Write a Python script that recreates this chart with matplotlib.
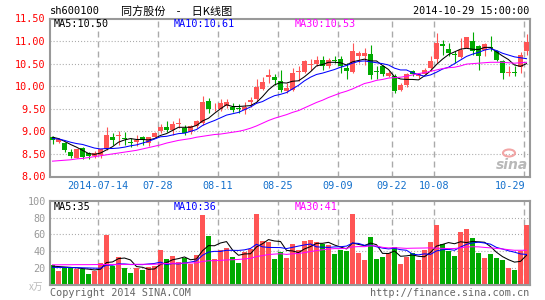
import matplotlib
matplotlib.use("Agg")
import matplotlib.pyplot as plt
import numpy as np
from matplotlib.transforms import blended_transform_factory
from matplotlib.patches import Ellipse

plt.rcParams['lines.scale_dashes'] = False

# ---------------- data ----------------
date_idx = [8, 18, 28, 38, 48, 57, 64, 79]
date_labels = ['2014-07-14', '07-28', '08-11', '08-25', '09-09', '09-22', '10-08', '10-29']

open_ = [8.87, 8.76, 8.75, 8.55, 8.42, 8.64, 8.51, 8.45, 8.48, 8.60,
         8.88, 8.90, 8.86, 8.77, 8.77, 8.87, 8.74, 8.88, 9.01, 9.09,
         9.03, 9.17, 9.08, 8.99, 9.11, 9.18, 9.68, 9.51, 9.49, 9.56,
         9.55, 9.51, 9.47, 9.66, 9.71, 9.94, 10.21, 10.21, 10.12, 9.90,
         9.92, 10.32, 10.32, 10.47, 10.50, 10.57, 10.44, 10.57, 10.61, 10.41,
         10.32, 10.68, 10.68, 10.72, 10.33, 10.44, 10.23, 10.22, 9.92, 10.03,
         10.33, 10.22, 10.27, 10.40, 10.61, 10.93, 10.83, 10.72, 10.64, 10.85,
         11.00, 10.90, 10.80, 10.86, 10.77, 10.55, 10.29, 10.32, 10.42, 10.77]
high = [8.90, 8.86, 8.77, 8.60, 8.62, 8.66, 8.55, 8.56, 8.62, 9.10,
        8.96, 9.01, 8.99, 8.85, 8.93, 8.90, 8.88, 8.99, 9.16, 9.22,
        9.22, 9.29, 9.14, 9.14, 9.25, 9.79, 9.74, 9.62, 9.71, 9.71,
        9.62, 9.60, 9.66, 9.77, 10.17, 10.21, 10.38, 10.27, 10.36, 10.08,
        10.40, 10.44, 10.59, 10.60, 10.66, 10.66, 10.62, 10.66, 10.66, 10.51,
        10.96, 10.77, 10.85, 10.92, 10.44, 10.48, 10.33, 10.26, 10.07, 10.29,
        10.37, 10.30, 10.40, 10.66, 11.18, 11.03, 10.95, 10.77, 11.07, 11.10,
        11.20, 10.92, 10.96, 11.12, 10.80, 10.59, 10.44, 10.44, 10.76, 11.16]
low = [8.73, 8.74, 8.55, 8.40, 8.40, 8.38, 8.38, 8.42, 8.42, 8.59,
       8.70, 8.70, 8.70, 8.66, 8.68, 8.70, 8.68, 8.87, 8.97, 8.99,
       8.92, 9.07, 8.92, 8.94, 9.08, 9.14, 9.40, 9.44, 9.44, 9.51,
       9.42, 9.40, 9.39, 9.55, 9.66, 9.92, 10.08, 10.03, 9.88, 9.84,
       9.89, 10.11, 10.29, 10.37, 10.44, 10.37, 10.40, 10.51, 10.30, 10.15,
       10.29, 10.51, 10.48, 10.15, 10.15, 10.22, 10.20, 9.85, 9.89, 9.98,
       10.22, 10.18, 10.26, 10.33, 10.51, 10.70, 10.66, 10.51, 10.62, 10.84,
       10.70, 10.37, 10.68, 10.77, 10.55, 10.17, 10.22, 10.22, 10.29, 10.70]
close = [8.80, 8.82, 8.59, 8.45, 8.60, 8.44, 8.45, 8.53, 8.60, 8.92,
         8.80, 8.93, 8.82, 8.74, 8.81, 8.80, 8.87, 8.97, 9.09, 9.03,
         9.16, 9.18, 8.97, 9.11, 9.22, 9.66, 9.50, 9.52, 9.62, 9.64,
         9.47, 9.50, 9.55, 9.70, 9.99, 10.10, 10.24, 10.13, 9.92, 9.95,
         10.29, 10.33, 10.56, 10.48, 10.57, 10.44, 10.59, 10.55, 10.44, 10.33,
         10.78, 10.73, 10.73, 10.25, 10.32, 10.26, 10.30, 9.90, 10.03, 10.26,
         10.26, 10.26, 10.35, 10.55, 10.96, 10.88, 10.74, 10.69, 10.81, 11.10,
         10.77, 10.67, 10.94, 10.84, 10.59, 10.29, 10.31, 10.30, 10.70, 10.99]

ma5 = [8.87, 8.84, 8.78, 8.71, 8.65, 8.58, 8.51, 8.49, 8.52, 8.59,
       8.66, 8.76, 8.81, 8.84, 8.82, 8.82, 8.81, 8.84, 8.91, 8.95,
       9.02, 9.09, 9.09, 9.09, 9.13, 9.23, 9.29, 9.40, 9.50, 9.59,
       9.55, 9.55, 9.56, 9.57, 9.64, 9.77, 9.92, 10.03, 10.08, 10.07,
       10.11, 10.12, 10.21, 10.32, 10.45, 10.48, 10.53, 10.53, 10.52, 10.47,
       10.54, 10.57, 10.60, 10.56, 10.56, 10.46, 10.37, 10.21, 10.16, 10.15,
       10.15, 10.14, 10.23, 10.34, 10.48, 10.60, 10.70, 10.76, 10.82, 10.84,
       10.82, 10.81, 10.86, 10.86, 10.76, 10.67, 10.59, 10.47, 10.44, 10.50]
ma10 = [8.84, 8.83, 8.80, 8.76, 8.73, 8.71, 8.67, 8.63, 8.61, 8.62,
        8.62, 8.63, 8.65, 8.68, 8.70, 8.74, 8.78, 8.83, 8.88, 8.89,
        8.92, 8.95, 8.96, 9.00, 9.04, 9.13, 9.19, 9.24, 9.30, 9.36,
        9.39, 9.42, 9.48, 9.54, 9.62, 9.66, 9.73, 9.79, 9.82, 9.86,
        9.94, 10.02, 10.12, 10.20, 10.26, 10.29, 10.33, 10.37, 10.42, 10.46,
        10.51, 10.55, 10.56, 10.54, 10.52, 10.50, 10.47, 10.40, 10.36, 10.36,
        10.30, 10.26, 10.22, 10.25, 10.31, 10.38, 10.42, 10.50, 10.58, 10.66,
        10.71, 10.75, 10.80, 10.83, 10.79, 10.73, 10.69, 10.65, 10.63, 10.61]
ma30 = [8.34, 8.35, 8.36, 8.37, 8.39, 8.40, 8.42, 8.44, 8.46, 8.48,
        8.50, 8.52, 8.54, 8.56, 8.58, 8.61, 8.64, 8.67, 8.70, 8.74,
        8.77, 8.80, 8.82, 8.84, 8.87, 8.89, 8.91, 8.93, 8.94, 8.96,
        8.98, 9.00, 9.03, 9.07, 9.12, 9.18, 9.24, 9.29, 9.33, 9.37,
        9.42, 9.46, 9.52, 9.58, 9.64, 9.69, 9.75, 9.80, 9.85, 9.89,
        9.94, 10.00, 10.06, 10.09, 10.13, 10.15, 10.18, 10.19, 10.20, 10.22,
        10.25, 10.28, 10.30, 10.33, 10.36, 10.39, 10.41, 10.42, 10.45, 10.49,
        10.50, 10.51, 10.52, 10.53, 10.53, 10.53, 10.52, 10.51, 10.52, 10.53]

volume = [23.2, 16.0, 21.0, 21.0, 19.0, 18.4, 12.4, 16.4, 25.2, 59.2,
          22.0, 32.4, 19.6, 14.0, 19.6, 17.2, 20.4, 22.0, 41.2, 30.4,
          34.0, 27.2, 32.0, 24.4, 35.2, 83.2, 58.0, 31.0, 41.0, 44.0,
          33.0, 26.0, 39.0, 42.0, 85.0, 52.0, 51.0, 30.4, 39.2, 32.0,
          48.4, 41.2, 52.4, 53.2, 51.2, 48.4, 47.2, 36.4, 41.2, 40.0,
          84.4, 38.0, 29.2, 56.4, 30.4, 32.4, 37.2, 44.4, 24.4, 33.2,
          38.0, 29.2, 41.2, 50.4, 71.2, 48.0, 40.4, 34.0, 62.4, 66.0,
          55.2, 38.0, 31.6, 36.0, 32.0, 29.2, 19.6, 17.2, 40.4, 71.2]
vma5 = [22.0, 21.5, 21.0, 20.5, 20.0, 19.1, 18.4, 17.4, 18.3, 26.3,
        27.0, 31.0, 31.7, 29.4, 21.5, 20.6, 18.2, 18.6, 24.1, 26.2,
        29.6, 31.0, 33.0, 29.6, 30.6, 40.4, 46.6, 46.4, 49.7, 51.4,
        41.4, 35.0, 36.6, 36.8, 45.0, 48.8, 53.8, 52.1, 51.5, 40.9,
        40.2, 38.2, 42.6, 45.4, 49.3, 49.3, 50.5, 47.3, 44.9, 42.6,
        49.8, 48.0, 46.6, 49.6, 47.7, 37.3, 37.1, 40.2, 33.8, 34.3,
        35.4, 33.8, 33.2, 38.4, 46.0, 48.0, 50.2, 48.8, 51.2, 50.2,
        51.6, 51.1, 50.6, 45.4, 38.6, 33.4, 29.7, 26.8, 27.7, 35.0]
vma10 = [20.5, 20.5, 20.4, 20.3, 20.2, 20.0, 19.8, 19.6, 19.5, 23.2,
         23.1, 24.7, 24.6, 23.9, 23.9, 23.8, 24.6, 25.2, 26.8, 23.9,
         25.1, 24.6, 25.8, 26.8, 28.4, 35.0, 38.8, 39.7, 39.6, 41.0,
         40.9, 40.8, 41.5, 43.2, 48.2, 45.1, 44.4, 44.3, 44.2, 43.0,
         44.5, 46.0, 47.4, 48.5, 45.1, 44.7, 44.4, 45.0, 45.2, 46.0,
         49.6, 49.2, 46.9, 47.2, 45.2, 43.6, 42.6, 43.4, 41.7, 41.0,
         36.4, 35.5, 36.7, 36.1, 40.2, 41.7, 42.0, 41.0, 44.8, 48.1,
         49.8, 50.7, 49.7, 48.3, 44.4, 42.5, 40.4, 38.7, 36.6, 36.0]
vma30 = [23.6, 23.6, 23.7, 23.7, 23.8, 23.8, 23.8, 23.9, 23.9, 24.0,
         24.0, 24.1, 24.1, 24.1, 24.2, 24.2, 24.2, 24.3, 24.6, 25.2,
         25.4, 25.5, 25.6, 25.8, 26.0, 27.6, 28.4, 28.6, 28.9, 29.4,
         29.7, 30.0, 30.6, 31.3, 33.5, 34.6, 35.9, 36.4, 36.9, 36.0,
         36.8, 37.1, 38.2, 39.5, 40.6, 41.6, 42.5, 43.0, 43.0, 43.3,
         45.0, 45.4, 45.3, 46.3, 46.2, 44.5, 43.8, 44.2, 43.7, 43.3,
         43.5, 43.6, 43.7, 43.9, 43.5, 43.3, 43.0, 43.1, 43.9, 45.0,
         45.2, 45.1, 44.4, 43.9, 43.2, 42.6, 41.7, 41.0, 41.0, 41.0]

price_ticks = [8.0, 8.5, 9.0, 9.5, 10.0, 10.5, 11.0, 11.5]
vol_ticks = [20, 40, 60, 80, 100]

# ---------------- style ----------------
RED = '#ff5555'
GREEN = '#00aa00'
GRID = '#aaaaaa'
FRAME = '#999999'
MONO = 'DejaVu Sans Mono'
CJK = ['Noto Sans CJK SC', 'DejaVu Sans']
LW = 0.75

W, H = 545, 300
fig = plt.figure(figsize=(W / 100, H / 100), dpi=100)
fig.patch.set_facecolor('white')


def rect(l, t, r, b):
    return [l / W, 1 - b / H, (r - l) / W, (b - t) / H]


ax = fig.add_axes(rect(50, 18.5, 529.5, 176.5))
axv = fig.add_axes(rect(50, 201, 529.5, 284.5))

o = np.array(open_)
c = np.array(close)
x = np.arange(len(c))
cols = np.where(c >= o, RED, GREEN)
bw = 5 / 6

for a in (ax, axv):
    a.set_xlim(-0.417, 79.5)
    for s in a.spines.values():
        s.set_color(FRAME)
        s.set_linewidth(1.5)
    a.tick_params(length=0)
    a.set_xticks([])
    for i in date_idx:
        a.axvline(i - 0.4, color=GRID, lw=1.0, ls=(0, (4.3, 2.9)), zorder=1)

# price panel
ax.set_ylim(8.0, 11.5)
for v in price_ticks[1:-1]:
    ax.axhline(v, color=GRID, lw=0.8, ls=(0, (0.75, 1.45)), zorder=1)
ax.vlines(x, low, high, colors=cols, lw=0.8, zorder=2)
body_b = np.minimum(o, c)
body_h = np.maximum(np.abs(c - o), 0.016)
ax.bar(x, body_h, bottom=body_b, width=bw, color=cols, lw=0, zorder=3)
ax.plot(x, ma5, color='black', lw=LW, zorder=4)
ax.plot(x, ma10, color='#0000ff', lw=LW, zorder=4)
ax.plot(x, ma30, color='#ff00ff', lw=LW, zorder=4)
ax.set_yticks(price_ticks)
ax.set_yticklabels(['%.2f' % v for v in price_ticks], color='#ff0000',
                   fontfamily=MONO, fontsize=7.3)
ax.tick_params(axis='y', pad=3)

tr = blended_transform_factory(ax.transData, ax.transAxes)
for k, (i, lab) in enumerate(zip(date_idx, date_labels)):
    ha = 'right' if k == len(date_idx) - 1 else 'center'
    ax.text(i - 0.4 + (0.15 if ha == 'right' else 0), -0.063, lab, transform=tr,
            ha=ha, va='center', color='#1470cc', fontfamily=MONO, fontsize=7.3)

# volume panel
axv.set_ylim(0, 100)
for v in vol_ticks[:-1]:
    axv.axhline(v, color=GRID, lw=0.8, ls=(0, (0.75, 1.45)), zorder=1)
axv.bar(x, volume, width=bw, color=cols, lw=0, zorder=2)
axv.plot(x, vma5, color='black', lw=LW, zorder=4)
axv.plot(x, vma10, color='#0000ff', lw=LW, zorder=4)
axv.plot(x, vma30, color='#ff00ff', lw=LW, zorder=4)
axv.set_yticks(vol_ticks)
axv.set_yticklabels([str(v) for v in vol_ticks], color='#999999',
                    fontfamily=MONO, fontsize=7.3)
axv.tick_params(axis='y', pad=3)


def ftext(px, py, s, **kw):
    fig.text(px / W, 1 - py / H, s, va='center', **kw)


# header
ftext(50, 11, 'sh600100', fontfamily=MONO, fontsize=7.5, color='black')
ftext(177, 11, '同方股份\u3000-\u3000日K线图', ha='center', family=CJK,
      fontsize=8, color='black')
ftext(529, 11, '2014-10-29 15:00:00', ha='right', fontfamily=MONO, fontsize=7.3,
      color='black')

# MA legends
ftext(54, 24, 'MA5:%.2f' % ma5[-1], fontfamily=MONO, fontsize=7.3, color='black')
ftext(174, 24, 'MA10:%.2f' % ma10[-1], fontfamily=MONO, fontsize=7.3, color='#0000ff')
ftext(295, 24, 'MA30:%.2f' % ma30[-1], fontfamily=MONO, fontsize=7.3, color='#ff00ff')
ftext(54, 206.5, 'MA5:%d' % round(vma5[-1]), fontfamily=MONO, fontsize=7.3, color='black')
ftext(174, 206.5, 'MA10:%d' % round(vma10[-1]), fontfamily=MONO, fontsize=7.3, color='#0000ff')
ftext(295, 206.5, 'MA30:%d' % round(vma30[-1]), fontfamily=MONO, fontsize=7.3, color='#ff00ff')

# footer
ftext(36, 287, 'x万', ha='center', family=CJK, fontsize=7, color='#bbbbbb')
ftext(50, 293, 'Copyright 2014 SINA.COM', fontfamily=MONO, fontsize=7.3, color='#666666')
ftext(529, 293, 'http://finance.sina.com.cn', ha='right', fontfamily=MONO,
      fontsize=7.3, color='#666666')

# sina watermark
ftext(512, 165, 'sina', ha='center', fontsize=10, fontstyle='italic',
      fontweight='bold', color='#b8b8b8')
fig.patches.append(Ellipse((509 / W, 1 - 153 / H), 12 / W, 7 / H,
                           transform=fig.transFigure, facecolor='none',
                           edgecolor='#f2a5a5', lw=1.5))

fig.savefig('out.png', dpi=100, facecolor='white')
